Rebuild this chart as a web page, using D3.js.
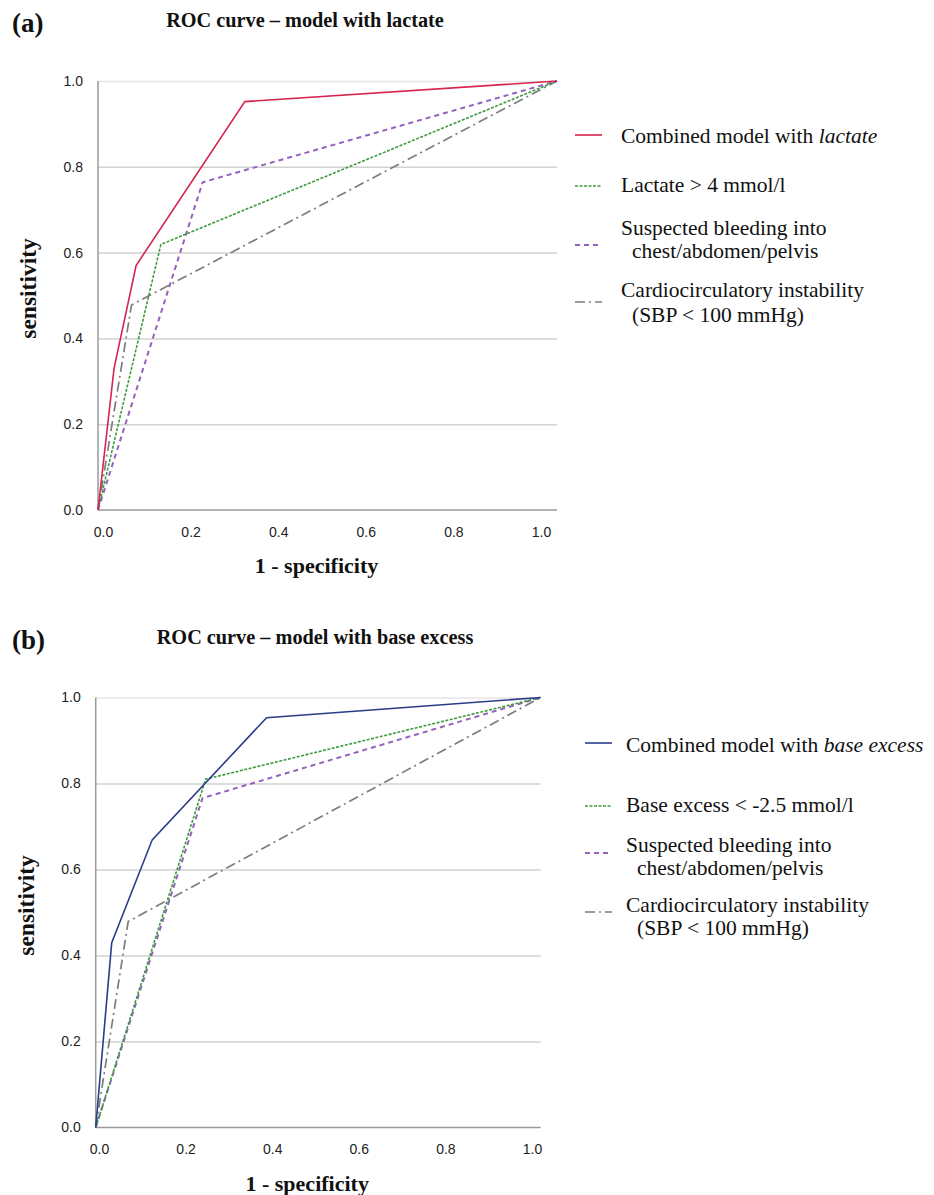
<!DOCTYPE html>
<html>
<head>
<meta charset="utf-8">
<title>ROC curves</title>
<script src="https://d3js.org/d3.v7.min.js"></script>
<style>
  body { margin: 0; background: #fff; }
  .tick text { font-family: "Liberation Sans", Arial, sans-serif; font-size: 14px; fill: #222; }
  .serif { font-family: "Liberation Serif", "Times New Roman", serif; fill: #111; }
</style>
</head>
<body>
<script>
// tick values shared by both panels
var xTicks = [0, 0.2, 0.4, 0.6, 0.8, 1.0]
var yTicks = [0, 0.2, 0.4, 0.6, 0.8, 1.0]

// (a) model with lactate, points are [1 - specificity, sensitivity]
var combinedLactate = [[0, 0], [0.035, 0.33], [0.083, 0.57], [0.32, 0.952], [1, 1]]
var lactateOver4 = [[0, 0], [0.137, 0.619], [1, 1]]
var bleedingA = [[0, 0], [0.228, 0.764], [1, 1]]
var instabilityA = [[0, 0], [0.073, 0.478], [1, 1]]

// (b) model with base excess
var combinedBase = [[0, 0], [0.036, 0.43], [0.127, 0.669], [0.384, 0.953], [1, 1]]
var baseExcessBelow = [[0, 0], [0.247, 0.81], [1, 1]]
var bleedingB = [[0, 0], [0.24, 0.766], [1, 1]]
var instabilityB = [[0, 0], [0.073, 0.479], [1, 1]]

var legendA = [
  [["Combined model with ", false], ["lactate", true]],
  [["Lactate > 4 mmol/l", false]],
  [["Suspected bleeding into", false]],
  [["chest/abdomen/pelvis", false]],
  [["Cardiocirculatory instability", false]],
  [["(SBP < 100 mmHg)", false]]
]
var legendB = [
  [["Combined model with ", false], ["base excess", true]],
  [["Base excess < -2.5 mmol/l", false]],
  [["Suspected bleeding into", false]],
  [["chest/abdomen/pelvis", false]],
  [["Cardiocirculatory instability", false]],
  [["(SBP < 100 mmHg)", false]]
]

// line styles
var styles = {
  red:    {stroke: "#d8234f", width: 1.6, dash: null},
  blue:   {stroke: "#2b3d88", width: 1.6, dash: null},
  green:  {stroke: "#3d9b3d", width: 1.6, dash: "3,1.5"},
  purple: {stroke: "#9462bd", width: 2,   dash: "5,4"},
  gray:   {stroke: "#7d7d7d", width: 1.7, dash: "10,4,2,4"}
}

var svg = d3.select("body").append("svg")
  .attr("width", 934)
  .attr("height", 1195)

function drawPanel(p) {
  var g = svg.append("g")
  var x = d3.scaleLinear().domain([0, 1]).range([p.x0, p.x1])
  var xLab = d3.scaleLinear().domain([0, 1]).range(p.labRange)
  var y = d3.scaleLinear().domain([0, 1]).range([p.y0, p.y1])

  // horizontal gridlines (top one is fainter)
  g.append("g")
    .attr("transform", "translate(" + p.x0 + ",0)")
    .call(d3.axisLeft(y).tickValues(yTicks.slice(1)).tickSize(-(p.x1 - p.x0)).tickFormat(""))
    .call(function(a) {
      a.select(".domain").remove()
      a.selectAll("line")
        .attr("stroke", d => d === 1 ? "#e6e6e6" : "#d2d2d2")
        .attr("stroke-width", 1.5)
    })

  // y labels
  g.append("g")
    .attr("transform", "translate(" + (p.x0 - 12) + ",0)")
    .call(d3.axisLeft(y).tickValues(yTicks).tickSize(0).tickFormat(d3.format(".1f")))
    .call(function(a) { a.select(".domain").remove() })

  // x labels
  g.append("g")
    .attr("transform", "translate(0," + (p.y0 + 14) + ")")
    .call(d3.axisBottom(xLab).tickValues(xTicks).tickSize(0).tickFormat(d3.format(".1f")))
    .call(function(a) { a.select(".domain").remove() })

  // axis lines
  g.append("line").attr("x1", p.x0).attr("x2", p.x0).attr("y1", p.y1).attr("y2", p.y0)
    .attr("stroke", "#9a9a9a").attr("stroke-width", 1.5)
  g.append("line").attr("x1", p.x0).attr("x2", p.x1).attr("y1", p.y0).attr("y2", p.y0)
    .attr("stroke", "#9a9a9a").attr("stroke-width", 1.5)

  var line = d3.line().x(d => x(d[0])).y(d => y(d[1]))
  p.series.forEach(function(s) {
    var st = styles[s.style]
    g.append("path")
      .datum(s.data)
      .attr("d", line)
      .attr("fill", "none")
      .attr("stroke", st.stroke)
      .attr("stroke-width", st.width)
      .attr("stroke-dasharray", st.dash)
      .attr("stroke-linejoin", "miter")
  })

  // titles
  g.append("text").attr("class", "serif")
    .attr("x", 12).attr("y", p.y1 - 49)
    .attr("font-size", 27).attr("font-weight", "bold")
    .text(p.letter)
  g.append("text").attr("class", "serif")
    .attr("x", p.titleX).attr("y", p.y1 - 54)
    .attr("text-anchor", "middle")
    .attr("font-size", 20.3).attr("font-weight", "bold")
    .text(p.title)
  g.append("text").attr("class", "serif")
    .attr("transform", "translate(" + (p.x0 - 62) + "," + ((p.y0 + p.y1) / 2 - 7) + ") rotate(-90)")
    .attr("text-anchor", "middle")
    .attr("font-size", 23.5).attr("font-weight", "bold")
    .text("sensitivity")
  g.append("text").attr("class", "serif")
    .attr("x", (p.x0 + p.x1) / 2 - 11).attr("y", p.y0 + 63)
    .attr("text-anchor", "middle")
    .attr("font-size", 22).attr("font-weight", "bold")
    .text("1 - specificity")

  // legend
  var lg = g.append("g")
  p.legendKeys.forEach(function(k) {
    var st = styles[k.style]
    lg.append("line")
      .attr("x1", p.legX).attr("x2", p.legX + 27)
      .attr("y1", k.y).attr("y2", k.y)
      .attr("stroke", st.stroke)
      .attr("stroke-width", st.width)
      .attr("stroke-dasharray", st.dash)
  })
  p.legend.forEach(function(row, i) {
    var t = lg.append("text").attr("class", "serif")
      .attr("x", p.textX + (p.indent[i] || 0))
      .attr("y", p.legRows[i])
      .attr("font-size", 21.5)
    row.forEach(function(part) {
      t.append("tspan").attr("font-style", part[1] ? "italic" : "normal").text(part[0])
    })
  })
}

drawPanel({
  letter: "(a)", title: "ROC curve \u2013 model with lactate", titleX: 305,
  x0: 98, x1: 557, y0: 510, y1: 81, labRange: [103, 541],
  series: [
    {data: instabilityA, style: "gray"},
    {data: bleedingA, style: "purple"},
    {data: lactateOver4, style: "green"},
    {data: combinedLactate, style: "red"}
  ],
  legX: 575, textX: 621, legend: legendA, indent: [0, 0, 0, 11, 0, 11],
  legRows: [143, 192, 235, 258, 297, 322],
  legendKeys: [
    {style: "red", y: 135}, {style: "green", y: 186},
    {style: "purple", y: 245}, {style: "gray", y: 302}
  ]
})

drawPanel({
  letter: "(b)", title: "ROC curve \u2013 model with base excess", titleX: 315,
  x0: 95.7, x1: 540.7, y0: 1127.5, y1: 697.5, labRange: [99, 532],
  series: [
    {data: instabilityB, style: "gray"},
    {data: bleedingB, style: "purple"},
    {data: baseExcessBelow, style: "green"},
    {data: combinedBase, style: "blue"}
  ],
  legX: 585, textX: 626, legend: legendB, indent: [0, 0, 0, 11, 0, 11],
  legRows: [752, 812, 852, 875, 912, 935],
  legendKeys: [
    {style: "blue", y: 743}, {style: "green", y: 806},
    {style: "purple", y: 853}, {style: "gray", y: 912}
  ]
})
</script>
</body>
</html>
